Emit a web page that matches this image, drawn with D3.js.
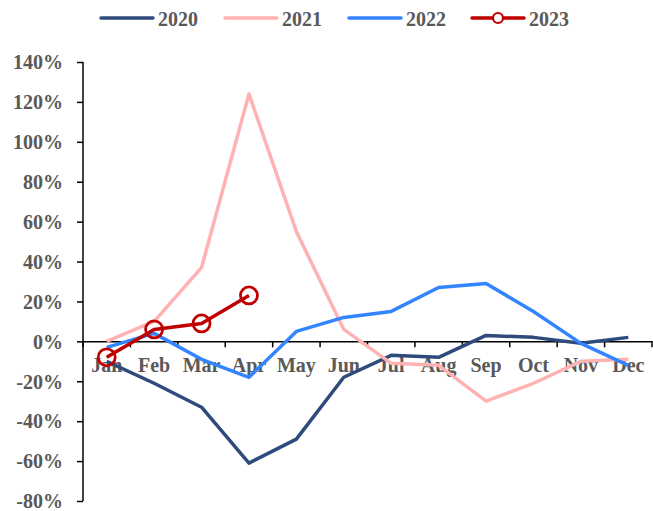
<!DOCTYPE html>
<html><head><meta charset="utf-8">
<script src="https://cdn.jsdelivr.net/npm/d3@7/dist/d3.min.js"></script>
<style>body{margin:0;background:#fff}svg{display:block}</style>
</head><body><svg id="c" width="653" height="511"></svg>
<script>
const months = ["Jan","Feb","Mar","Apr","May","Jun","Jul","Aug","Sep","Oct","Nov","Dec"];
const yTicks = [-80,-60,-40,-20,0,20,40,60,80,100,120,140];
const v2020 = [-10,-21,-33,-61,-49,-18,-7,-8,3,2,-1,2];
const v2021 = [0,10,37,124,55,6,-11,-12,-30,-21,-10,-9];
const v2022 = [-3,4,-9,-18,5,12,15,27,29,15,-1,-12];
const v2023 = [-8,6,9,23];
const seriesNames = ["2020","2021","2022","2023"];
const colors = ["#2F4B7C","#FFB2B2","#3384FF","#C00000"];

const svg = d3.select("#c");
const font = "'Liberation Serif','Times New Roman',serif";
const gray = "#595959";
const fs = "20px";
const x = d3.scaleBand().domain(months).range([83,652]);
const y = d3.scaleLinear().domain([-80,140]).range([501,62]);

// y axis
const ya = svg.append("g").attr("transform","translate(83,0)")
  .call(d3.axisLeft(y).tickValues(yTicks).tickSize(6).tickPadding(14).tickFormat(d=>d+"%"));
ya.select(".domain").attr("stroke","#000").attr("stroke-width",1.5).attr("d","M0,62V501");
ya.selectAll(".tick line").attr("stroke","#000").attr("stroke-width",1.5);
ya.selectAll("text").attr("font-family",font).attr("font-weight","bold").attr("font-size",fs).attr("fill",gray).attr("dy","0.34em");

// x axis at zero
const xa = svg.append("g").attr("transform",`translate(0,${y(0)})`)
  .call(d3.axisBottom(x).tickSize(0).tickPadding(16));
xa.select(".domain").attr("stroke","#000").attr("stroke-width",1.5);
xa.selectAll("text").attr("font-family",font).attr("font-weight","bold").attr("font-size",fs).attr("fill",gray);
const edges = months.map(m=>x(m)).concat([x.range()[1]]);
svg.append("g").selectAll("line").data(edges).join("line")
  .attr("x1",d=>d).attr("x2",d=>d).attr("y1",y(0)).attr("y2",y(0)+6)
  .attr("stroke","#000").attr("stroke-width",1.5);

const cx = m => x(m)+x.bandwidth()/2;
const line = d3.line().x((d,i)=>cx(months[i])).y(d=>y(d));
const all = [v2020,v2021,v2022,v2023];
all.forEach((s,k)=>{
  svg.append("path").attr("d",line(s)).attr("fill","none")
    .attr("stroke",colors[k]).attr("stroke-width",3.5).attr("stroke-linejoin","round");
});
svg.append("g").selectAll("circle").data(v2023).join("circle")
  .attr("cx",(d,i)=>cx(months[i])).attr("cy",d=>y(d)).attr("r",8.5)
  .attr("fill","none").attr("stroke",colors[3]).attr("stroke-width",2.8);

// legend
const lx = [101,225,349,472];
const lg = svg.append("g");
seriesNames.forEach((n,k)=>{
  lg.append("line").attr("x1",lx[k]).attr("x2",lx[k]+52).attr("y1",18).attr("y2",18)
    .attr("stroke",colors[k]).attr("stroke-width",3.5).attr("stroke-linecap","round");
  if(k===3) lg.append("circle").attr("cx",lx[k]+26).attr("cy",18).attr("r",5)
    .attr("fill","#fff").attr("stroke",colors[k]).attr("stroke-width",2.2);
  lg.append("text").attr("x",lx[k]+57).attr("y",26).text(n)
    .attr("font-family",font).attr("font-weight","bold").attr("font-size",fs).attr("fill",gray);
});
</script></body></html>
